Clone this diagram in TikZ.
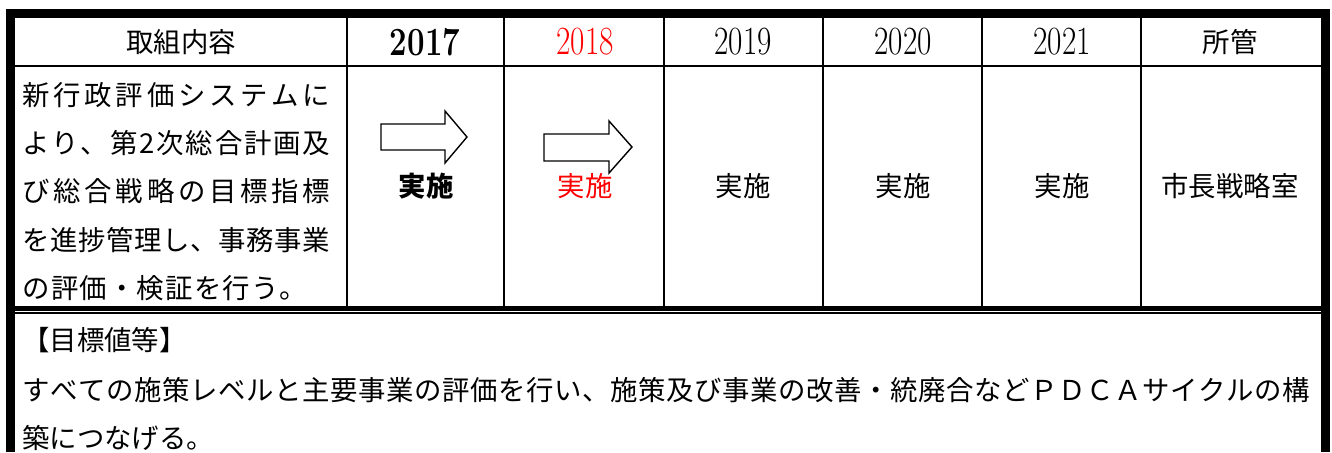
\documentclass[tikz,border=0pt]{standalone}
\usepackage{fontspec}
\usepackage{tikz}
\newfontfamily\jpfont{Noto Sans CJK JP}
\newfontfamily\yrfont[FakeStretch=0.78]{Latin Modern Roman}

% spread the characters of one line over a fixed width
\newcommand\spreadchars[1]{\ifx#1\relax\else#1\hfil\expandafter\spreadchars\fi}
\newcommand\spreadline[2]{\makebox[#1][s]{\spreadchars#2\relax\unskip}}

\tikzset{
  frame/.style={line width=4.5pt},
  rule/.style={line width=1pt},
  txt/.style={inner sep=0pt, font=\jpfont\fontsize{13.7pt}{16pt}\selectfont},
  yr/.style={inner sep=0pt, font=\yrfont\fontsize{20pt}{22pt}\selectfont},
  blockarrow/.style={line width=0.7pt, line join=miter},
}

\begin{document}
\begin{tikzpicture}[x=0.5pt, y=-0.5pt]
        \useasboundingbox (0,0) rectangle (1332,452);

        % frame and rules
        \draw[frame] (10.5,452) -- (10.5,13.5) -- (1325.5,13.5) -- (1325.5,452);
        \draw[rule] (15,66) -- (1321,66);
        \draw[rule] (347,18) -- (347,306);
        \draw[rule] (504,18) -- (504,306);
        \draw[rule] (664,18) -- (664,306);
        \draw[rule] (823,18) -- (823,306);
        \draw[rule] (982,18) -- (982,306);
        \draw[rule] (1141,18) -- (1141,306);
        \draw[line width=2.5pt] (15,308.5) -- (1321,308.5);
        \draw[rule] (15,313) -- (1321,313);

        % header
        \node[txt] (hwork) at (181,42) {取組内容};
        \node[yr] (h2017) at (425,42) {\bfseries 2017};
        \node[yr, red] (h2018) at (585,42) {2018};
        \node[yr] (h2019) at (743,42) {2019};
        \node[yr] (h2020) at (903,42) {2020};
        \node[yr] (h2021) at (1062,42) {2021};
        \node[txt] (hdept) at (1230,42) {所管};

        % work description
        \node[txt, anchor=west] (w1) at (22,95) {\spreadline{154pt}{新行政評価システムに}};
        \node[txt, anchor=west] (w2) at (22,143) {\spreadline{154pt}{より、第2次総合計画及}};
        \node[txt, anchor=west] (w3) at (22,191) {\spreadline{154pt}{び総合戦略の目標指標}};
        \node[txt, anchor=west] (w4) at (22,240) {\spreadline{154pt}{を進捗管理し、事務事業}};
        \node[txt, anchor=west] (w5) at (22,288) {\spreadline{142.5pt}{の評価・検証を行う。}};

        % plan
        \draw[blockarrow] (381,124) -- (445,124) -- (445,111) -- (467,137) -- (445,163) -- (445,150) -- (381,150) -- cycle;
        \draw[blockarrow] (544,134) -- (609,134) -- (609,121) -- (632,147) -- (609,173) -- (609,161) -- (544,161) -- cycle;
        \node[txt] (d2017) at (426,186) {\bfseries 実施};
        \node[txt, red] (d2018) at (585,186) {実施};
        \node[txt] (d2019) at (743,186) {実施};
        \node[txt] (d2020) at (903,186) {実施};
        \node[txt] (d2021) at (1062,186) {実施};
        \node[txt] (ddept) at (1230,186) {市長戦略室};

        % target
        \node[txt, anchor=west] (g1) at (22,340) {【目標値等】};
        \node[txt, anchor=west] (g2) at (22,390) {\spreadline{644pt}{すべての施策レベルと主要事業の評価を行い、施策及び事業の改善・統廃合などＰＤＣＡサイクルの構}};
        \node[txt, anchor=west] (g3) at (22,438) {築につなげる。};
    \end{tikzpicture}
\end{document}
